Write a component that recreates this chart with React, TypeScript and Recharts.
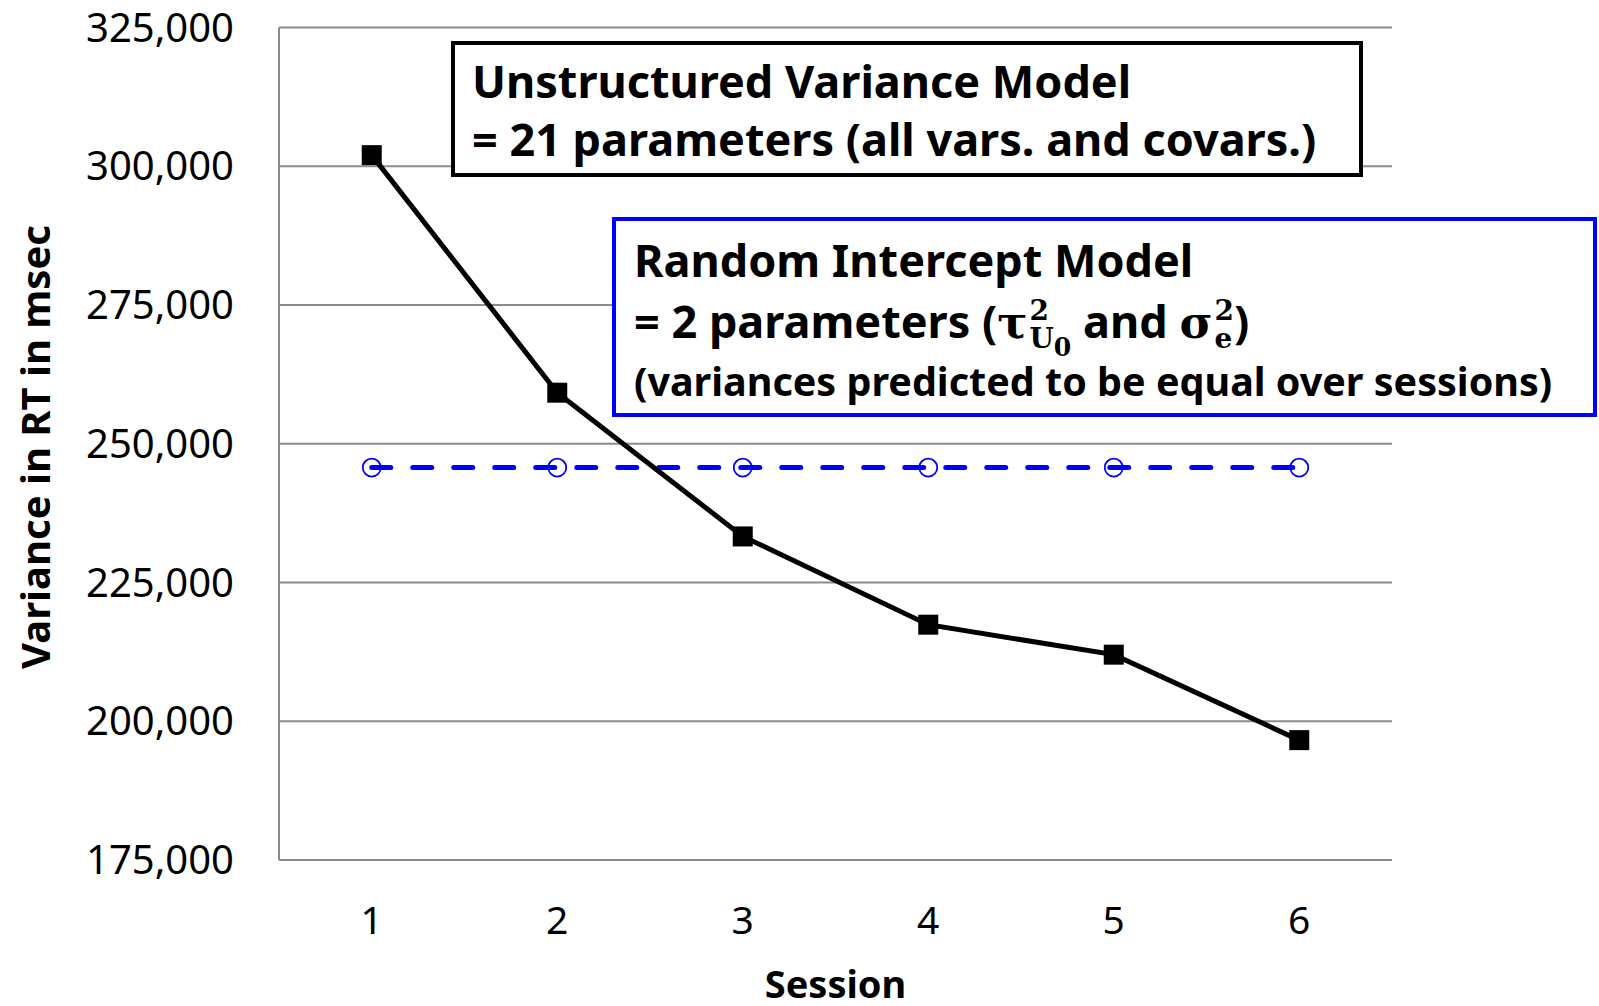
import React from "react";
import { LineChart, Line, XAxis, YAxis, CartesianGrid } from "recharts";

const sessions = [1, 2, 3, 4, 5, 6];
const unstructuredVariance = [302000, 259200, 233300, 217400, 212000, 196600];
const randomIntercept = [245700, 245700, 245700, 245700, 245700, 245700];
const yTicks = [175000, 200000, 225000, 250000, 275000, 300000, 325000];

const chartData = sessions.map((s, i) => ({
  session: s,
  unstructured: unstructuredVariance[i],
  random: randomIntercept[i],
}));

const GRID = "#8c8c8c";
const SANS = "'Noto Sans', 'Open Sans', sans-serif";
const MATH = "'DejaVu Serif', 'Liberation Serif', serif";

const SquareDot = (props: any) => {
  const { cx, cy } = props;
  if (cx == null || cy == null) return null;
  return <rect x={cx - 10} y={cy - 10} width={20} height={20} fill="#000" />;
};

const CircleDot = (props: any) => {
  const { cx, cy } = props;
  if (cx == null || cy == null) return null;
  return <circle cx={cx} cy={cy} r={9} fill="none" stroke="#0000ff" strokeWidth={1.8} />;
};

// symbol with stacked super/subscript, e.g. tau^2_{U_0}
function Sym({ base, sub, subsub }: { base: string; sub: string; subsub?: string }) {
  return (
    <span style={{ fontFamily: MATH, fontWeight: 700 }}>
      {base}
      <span
        style={{
          display: "inline-flex",
          flexDirection: "column",
          verticalAlign: "middle",
          lineHeight: 1,
          fontSize: "0.62em",
          marginLeft: 2,
          position: "relative",
          top: "-0.05em",
        }}
      >
        <span>2</span>
        <span>
          {sub}
          {subsub && <span style={{ position: "relative", top: "0.3em", fontSize: "0.9em" }}>{subsub}</span>}
        </span>
      </span>
    </span>
  );
}

const lineStyle = (top: number, size: number): React.CSSProperties => ({
  position: "absolute",
  left: 0,
  top,
  whiteSpace: "nowrap",
  fontSize: size,
  lineHeight: "58px",
  height: 58,
  fontWeight: 700,
  fontFamily: SANS,
  color: "#000",
});

export default function App() {
  return (
    <div style={{ position: "fixed", left: 0, top: 0, width: 1599, height: 1006, background: "#fff" }}>
      <LineChart width={1599} height={1006} data={chartData} margin={{ top: 27.5, right: 207, bottom: 86, left: 0 }}>
        <CartesianGrid vertical={false} stroke={GRID} strokeWidth={2} />
        <XAxis
          dataKey="session"
          height={60}
          padding={{ left: 92.75, right: 92.75 }}
          axisLine={{ stroke: GRID, strokeWidth: 2 }}
          tickLine={false}
          tickSize={0}
          tickMargin={46}
          tick={{ fill: "#000", fontSize: 39, fontFamily: SANS }}
          label={{
            value: "Session",
            position: "bottom",
            offset: 51,
            style: { fill: "#000", fontSize: 38, fontWeight: 700, fontFamily: SANS },
          }}
        />
        <YAxis
          width={279}
          domain={[175000, 325000]}
          ticks={yTicks}
          interval={0}
          axisLine={{ stroke: GRID, strokeWidth: 2 }}
          tickLine={false}
          tickSize={0}
          tickMargin={45}
          tick={{ fill: "#000", fontSize: 40, fontFamily: SANS }}
          tickFormatter={(v: number) => v.toLocaleString("en-US")}
          label={{
            content: () => (
              <text
                x={34}
                y={447}
                transform="rotate(-90 34 447)"
                textAnchor="middle"
                dominantBaseline="central"
                fill="#000"
                fontSize={40}
                fontWeight={700}
                fontFamily={SANS}
              >
                Variance in RT in msec
              </text>
            ),
          }}
        />
        <Line
          dataKey="random"
          stroke="#0000ff"
          strokeWidth={5}
          strokeDasharray="19 22"
          strokeLinecap="round"
          dot={<CircleDot />}
          activeDot={false}
          isAnimationActive={false}
        />
        <Line
          dataKey="unstructured"
          stroke="#000"
          strokeWidth={5}
          dot={<SquareDot />}
          activeDot={false}
          isAnimationActive={false}
        />
      </LineChart>

      <div
        style={{
          position: "absolute",
          left: 451,
          top: 41,
          width: 912,
          height: 136,
          boxSizing: "border-box",
          border: "4px solid #000",
          background: "#fff",
        }}
      >
        <div style={{ position: "absolute", left: 17, top: 7 }}>
          <div style={lineStyle(0, 45)}>Unstructured Variance Model</div>
          <div style={lineStyle(58, 45)}>= 21 parameters (all vars. and covars.)</div>
        </div>
      </div>

      <div
        style={{
          position: "absolute",
          left: 612,
          top: 217,
          width: 985,
          height: 200,
          boxSizing: "border-box",
          border: "4px solid #0000ff",
          background: "#fff",
        }}
      >
        <div style={{ position: "absolute", left: 18, top: 10 }}>
          <div style={lineStyle(0, 45)}>Random Intercept Model</div>
          <div style={lineStyle(61, 45)}>
            = 2 parameters (<Sym base="τ" sub="U" subsub="0" /> and <Sym base="σ" sub="e" />)
          </div>
          <div style={lineStyle(121, 39.5)}>(variances predicted to be equal over sessions)</div>
        </div>
      </div>
    </div>
  );
}
